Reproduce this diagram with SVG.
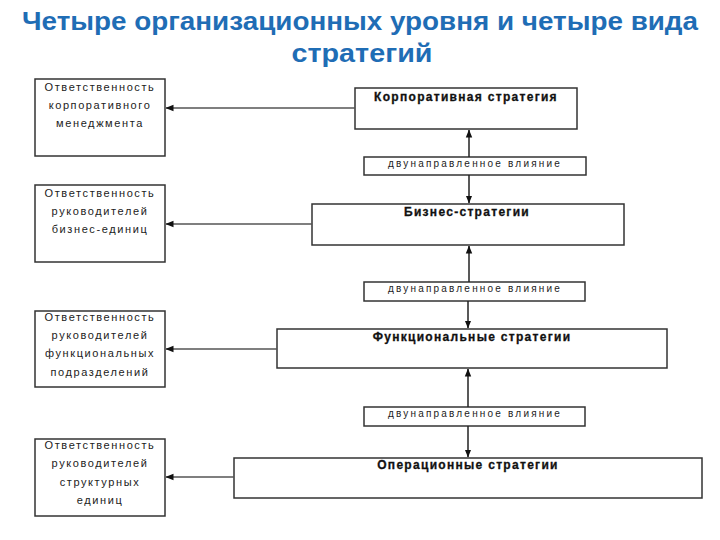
<svg xmlns="http://www.w3.org/2000/svg" width="720" height="540" viewBox="0 0 720 540">
<defs>
<marker id="ah" viewBox="0 0 8 8" refX="7.5" refY="4" markerWidth="8" markerHeight="8" markerUnits="userSpaceOnUse" orient="auto">
<path d="M0,0.8 L8,4 L0,7.2 Z" fill="#111"/>
</marker>
</defs>
<style>
.title{font-family:"Liberation Sans",Arial,sans-serif;font-weight:bold;font-size:25px;fill:#1f6db5;text-anchor:middle}
.box{fill:#fff;stroke:#333;stroke-width:1.5}
.lt{font-family:"Liberation Sans",Arial,sans-serif;font-size:11px;letter-spacing:1.6px;fill:#222;text-anchor:middle}
.st{font-family:"Liberation Sans",Arial,sans-serif;font-size:12px;font-weight:bold;letter-spacing:1.3px;fill:#111;stroke:#111;stroke-width:0.3;text-anchor:middle}
.it{font-family:"Liberation Sans",Arial,sans-serif;font-size:10px;letter-spacing:2.2px;fill:#222;text-anchor:middle}
.h{stroke:#555;stroke-width:1.3;fill:none;marker-end:url(#ah)}
.v{stroke:#222;stroke-width:1.5;fill:none;marker-end:url(#ah)}
</style>
<rect width="720" height="540" fill="#fff"/>
<text class="title" x="360" y="30" textLength="676" lengthAdjust="spacingAndGlyphs">Четыре организационных уровня и четыре вида</text>
<text class="title" x="362" y="62" textLength="141" lengthAdjust="spacingAndGlyphs">стратегий</text>

<g id="resp1">
<rect class="box" x="35" y="79" width="130" height="77"/>
<text class="lt" x="100" y="91">Ответственность</text>
<text class="lt" x="100" y="109">корпоративного</text>
<text class="lt" x="100" y="127">менеджмента</text>
</g>
<g id="resp2">
<rect class="box" x="35" y="185" width="130" height="77"/>
<text class="lt" x="100" y="197">Ответственность</text>
<text class="lt" x="100" y="215">руководителей</text>
<text class="lt" x="100" y="233">бизнес-единиц</text>
</g>
<g id="resp3">
<rect class="box" x="35" y="311" width="130" height="76"/>
<text class="lt" x="100" y="321">Ответственность</text>
<text class="lt" x="100" y="339">руководителей</text>
<text class="lt" x="100" y="357">функциональных</text>
<text class="lt" x="100" y="376">подразделений</text>
</g>
<g id="resp4">
<rect class="box" x="35" y="439" width="130" height="77"/>
<text class="lt" x="100" y="449">Ответственность</text>
<text class="lt" x="100" y="467">руководителей</text>
<text class="lt" x="100" y="486">структурных</text>
<text class="lt" x="100" y="504">единиц</text>
</g>

<g id="corp">
<rect class="box" x="355" y="88" width="222" height="41"/>
<text class="st" x="466" y="101">Корпоративная стратегия</text>
</g>
<g id="infl1">
<rect class="box" x="364" y="157" width="222" height="18"/>
<text class="it" x="475" y="167">двунаправленное влияние</text>
</g>
<g id="bus">
<rect class="box" x="312" y="204" width="312" height="41"/>
<text class="st" x="467" y="216">Бизнес-стратегии</text>
</g>
<g id="infl2">
<rect class="box" x="364" y="282" width="221" height="19"/>
<text class="it" x="475" y="292">двунаправленное влияние</text>
</g>
<g id="func">
<rect class="box" x="277" y="329" width="390" height="39"/>
<text class="st" x="472" y="341">Функциональные стратегии</text>
</g>
<g id="infl3">
<rect class="box" x="364" y="407" width="221" height="19"/>
<text class="it" x="475" y="417">двунаправленное влияние</text>
</g>
<g id="oper">
<rect class="box" x="234" y="458" width="468" height="40"/>
<text class="st" x="468" y="469">Операционные стратегии</text>
</g>

<g id="connectors">
<line class="h" x1="355" y1="108" x2="166" y2="108"/>
<line class="h" x1="312" y1="224" x2="166" y2="224"/>
<line class="h" x1="277" y1="349" x2="166" y2="349"/>
<line class="h" x1="234" y1="477" x2="166" y2="477"/>
<line class="v" x1="469" y1="157" x2="469" y2="130"/>
<line class="v" x1="469" y1="175" x2="469" y2="203"/>
<line class="v" x1="469" y1="282" x2="469" y2="246"/>
<line class="v" x1="468" y1="301" x2="468" y2="328"/>
<line class="v" x1="468" y1="407" x2="468" y2="369"/>
<line class="v" x1="468" y1="426" x2="468" y2="457"/>
</g>
</svg>
